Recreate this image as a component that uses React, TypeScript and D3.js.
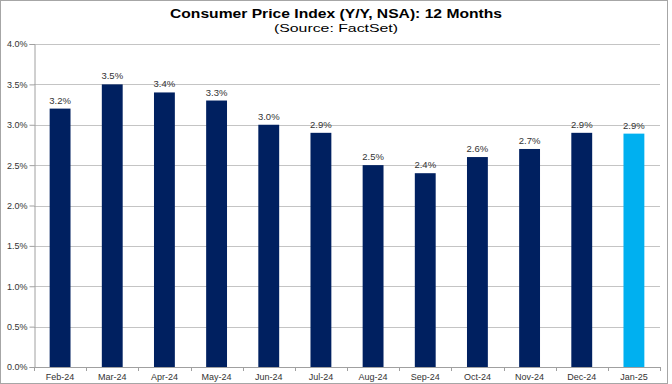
import React, { useEffect, useRef } from 'react';
import * as d3 from 'd3';

const months = ['Feb-24', 'Mar-24', 'Apr-24', 'May-24', 'Jun-24', 'Jul-24', 'Aug-24', 'Sep-24', 'Oct-24', 'Nov-24', 'Dec-24', 'Jan-25'];
const cpiValues = [3.2, 3.5, 3.4, 3.3, 3.0, 2.9, 2.5, 2.4, 2.6, 2.7, 2.9, 2.89];
const yTicks = [0, 0.5, 1.0, 1.5, 2.0, 2.5, 3.0, 3.5, 4.0];

const W = 672;
const H = 384;

export default function App() {
  const ref = useRef<SVGSVGElement>(null);

  useEffect(() => {
    const svg = d3.select(ref.current);
    svg.selectAll('*').remove();

    const margin = { top: 44, right: 12, bottom: 17, left: 34 };
    const x = d3.scaleBand<string>()
      .domain(months)
      .range([margin.left, W - margin.right])
      .paddingInner(0.6)
      .paddingOuter(0.3);
    const y = d3.scaleLinear().domain([0, 4]).range([H - margin.bottom, margin.top]);
    const font = 'Liberation Sans, Arial, sans-serif';

    // outer frame
    svg.append('rect')
      .attr('x', 0.5).attr('y', 0.5)
      .attr('width', W - 5).attr('height', H - 1)
      .attr('fill', '#fff').attr('stroke', '#a6a6a6');

    // title (the source image is stretched sideways, so fit the width)
    svg.append('text')
      .attr('x', W / 2).attr('y', 17.5)
      .attr('text-anchor', 'middle')
      .attr('textLength', 332).attr('lengthAdjust', 'spacingAndGlyphs')
      .style('font-family', font).style('font-size', '12.5px').style('font-weight', 'bold')
      .attr('fill', '#000')
      .text('Consumer Price Index (Y/Y, NSA): 12 Months');
    svg.append('text')
      .attr('x', W / 2).attr('y', 32)
      .attr('text-anchor', 'middle')
      .attr('textLength', 124).attr('lengthAdjust', 'spacingAndGlyphs')
      .style('font-family', font).style('font-size', '11.5px')
      .attr('fill', '#000')
      .text('(Source: FactSet)');

    // gridlines
    svg.append('g')
      .selectAll('line')
      .data(yTicks.filter((t) => t > 0))
      .enter()
      .append('line')
      .attr('x1', margin.left).attr('x2', W - margin.right)
      .attr('y1', (d) => Math.round(y(d)) + 0.5).attr('y2', (d) => Math.round(y(d)) + 0.5)
      .attr('stroke', '#c4c4c4').attr('stroke-width', 1);

    // y axis
    const yAxis = svg.append('g')
      .attr('transform', `translate(${margin.left + 0.5},0)`)
      .call(d3.axisLeft(y).tickValues(yTicks).tickSize(5).tickFormat((d) => `${(+d).toFixed(1)}%`));
    yAxis.select('.domain').attr('stroke', '#a0a0a0');
    yAxis.selectAll('.tick line').attr('stroke', '#a0a0a0');
    yAxis.selectAll('text')
      .style('font-family', font).style('font-size', '9px').attr('fill', '#333').attr('x', -7);

    // bars
    svg.append('g')
      .selectAll('rect')
      .data(cpiValues)
      .enter()
      .append('rect')
      .attr('x', (_, i) => x(months[i]) as number)
      .attr('y', (d) => y(d))
      .attr('width', x.bandwidth())
      .attr('height', (d) => y(0) - y(d))
      .attr('fill', (_, i) => (i === months.length - 1 ? '#00b0f0' : '#002060'));

    // value labels
    svg.append('g')
      .selectAll('text')
      .data(cpiValues)
      .enter()
      .append('text')
      .attr('x', (_, i) => (x(months[i]) as number) + x.bandwidth() / 2)
      .attr('y', (d) => y(d) - 5)
      .attr('text-anchor', 'middle')
      .style('font-family', font).style('font-size', '9.5px')
      .attr('fill', '#333')
      .text((d) => `${d.toFixed(1)}%`);

    // x axis
    const step = x.step();
    const xAxis = svg.append('g');
    xAxis.append('line')
      .attr('x1', margin.left).attr('x2', W - margin.right)
      .attr('y1', y(0) + 0.5).attr('y2', y(0) + 0.5)
      .attr('stroke', '#a0a0a0');
    xAxis.selectAll('line.tk')
      .data(d3.range(months.length + 1))
      .enter()
      .append('line')
      .attr('class', 'tk')
      .attr('x1', (i) => Math.round(margin.left + i * step) + 0.5)
      .attr('x2', (i) => Math.round(margin.left + i * step) + 0.5)
      .attr('y1', y(0)).attr('y2', y(0) + 4)
      .attr('stroke', '#a0a0a0');
    xAxis.selectAll('text')
      .data(months)
      .enter()
      .append('text')
      .attr('x', (d) => (x(d) as number) + x.bandwidth() / 2)
      .attr('y', y(0) + 13)
      .attr('text-anchor', 'middle')
      .style('font-family', font).style('font-size', '9px')
      .attr('fill', '#333')
      .text((d) => d);
  }, []);

  return (
    <svg ref={ref} width={W} height={H} style={{ position: 'absolute', left: 0, top: 0, background: '#fff' }} />
  );
}
